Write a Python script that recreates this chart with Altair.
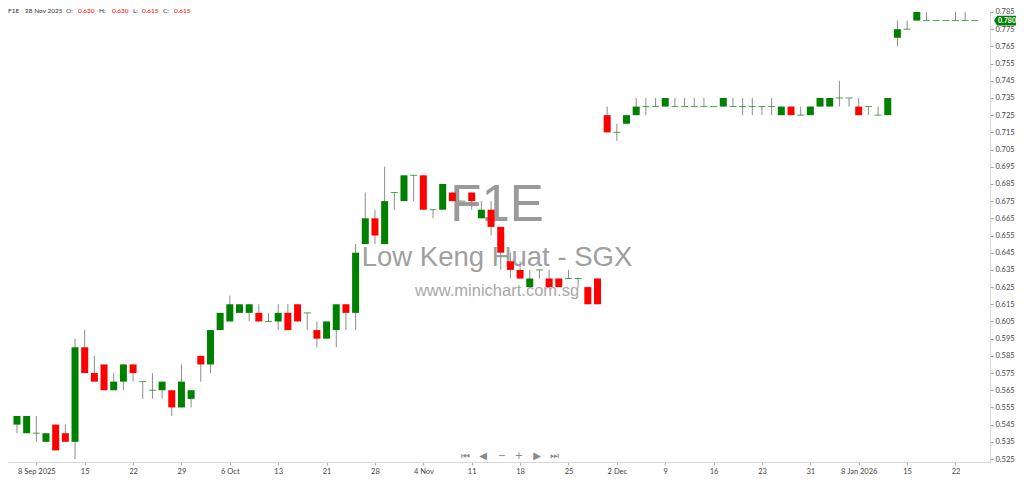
import altair as alt
import pandas as pd

# ---- data (trading-day index 0 = 4 Sep 2025) ----
opens = [0.545, 0.540, 0.540, 0.535, 0.545, 0.540, 0.535, 0.590, 0.575, 0.580,
         0.565, 0.570, 0.580, 0.570, 0.565, 0.565, 0.565, 0.555, 0.560, 0.585,
         0.580, 0.600, 0.605, 0.610, 0.610, 0.610, 0.605, 0.605, 0.610, 0.615,
         0.610, 0.600, 0.595, 0.600, 0.615, 0.610, 0.650, 0.665, 0.650, 0.680,
         0.675, 0.690, 0.690, 0.670, 0.670, 0.680, 0.675, 0.680, 0.665, 0.670,
         0.660, 0.640, 0.635, 0.625, 0.635, 0.630, 0.630, 0.630, 0.630, 0.625,
         0.630, 0.725, 0.715, 0.720, 0.725, 0.730, 0.730, 0.730, 0.730, 0.730,
         0.730, 0.730, 0.730, 0.730, 0.730, 0.730, 0.730, 0.730, 0.730, 0.725,
         0.730, 0.725, 0.725, 0.730, 0.730, 0.735, 0.735, 0.730, 0.730, 0.725,
         0.725, 0.770, 0.775, 0.780, 0.780, 0.780, 0.780, 0.780, 0.780, 0.780]
highs = [0.550, 0.550, 0.550, 0.540, 0.545, 0.545, 0.595, 0.600, 0.585, 0.580,
         0.575, 0.580, 0.580, 0.570, 0.575, 0.570, 0.565, 0.580, 0.565, 0.585,
         0.600, 0.610, 0.620, 0.615, 0.615, 0.615, 0.610, 0.615, 0.615, 0.615,
         0.610, 0.605, 0.605, 0.615, 0.615, 0.650, 0.680, 0.670, 0.695, 0.680,
         0.690, 0.690, 0.690, 0.670, 0.685, 0.680, 0.675, 0.680, 0.675, 0.675,
         0.660, 0.645, 0.640, 0.635, 0.635, 0.635, 0.630, 0.635, 0.630, 0.625,
         0.630, 0.730, 0.720, 0.725, 0.735, 0.735, 0.735, 0.735, 0.735, 0.735,
         0.735, 0.735, 0.730, 0.735, 0.735, 0.735, 0.735, 0.730, 0.735, 0.730,
         0.730, 0.730, 0.730, 0.735, 0.735, 0.745, 0.735, 0.735, 0.730, 0.730,
         0.735, 0.780, 0.780, 0.785, 0.785, 0.780, 0.780, 0.785, 0.785, 0.780]
lows = [0.540, 0.540, 0.535, 0.535, 0.530, 0.535, 0.525, 0.575, 0.570, 0.565,
        0.565, 0.565, 0.570, 0.560, 0.560, 0.560, 0.550, 0.555, 0.555, 0.570,
        0.575, 0.600, 0.605, 0.610, 0.605, 0.605, 0.605, 0.600, 0.600, 0.605,
        0.600, 0.590, 0.595, 0.590, 0.600, 0.600, 0.650, 0.650, 0.650, 0.670,
        0.675, 0.675, 0.670, 0.665, 0.670, 0.675, 0.675, 0.670, 0.665, 0.655,
        0.635, 0.630, 0.630, 0.625, 0.630, 0.625, 0.625, 0.630, 0.625, 0.615,
        0.615, 0.715, 0.710, 0.720, 0.725, 0.725, 0.730, 0.730, 0.730, 0.730,
        0.730, 0.730, 0.730, 0.730, 0.730, 0.725, 0.725, 0.725, 0.725, 0.725,
        0.725, 0.725, 0.725, 0.730, 0.730, 0.730, 0.730, 0.725, 0.725, 0.725,
        0.725, 0.765, 0.775, 0.780, 0.780, 0.780, 0.780, 0.780, 0.780, 0.780]
closes = [0.550, 0.550, 0.540, 0.540, 0.530, 0.535, 0.590, 0.575, 0.570, 0.565,
          0.570, 0.580, 0.575, 0.570, 0.565, 0.570, 0.555, 0.570, 0.565, 0.580,
          0.600, 0.610, 0.615, 0.615, 0.615, 0.605, 0.605, 0.610, 0.600, 0.605,
          0.610, 0.595, 0.605, 0.615, 0.610, 0.645, 0.665, 0.655, 0.675, 0.680,
          0.690, 0.690, 0.670, 0.670, 0.685, 0.675, 0.675, 0.675, 0.670, 0.660,
          0.645, 0.635, 0.630, 0.630, 0.635, 0.625, 0.625, 0.630, 0.630, 0.615,
          0.615, 0.715, 0.715, 0.725, 0.730, 0.730, 0.730, 0.735, 0.730, 0.730,
          0.730, 0.730, 0.730, 0.735, 0.730, 0.730, 0.730, 0.730, 0.730, 0.730,
          0.725, 0.725, 0.730, 0.735, 0.735, 0.735, 0.735, 0.725, 0.730, 0.725,
          0.735, 0.775, 0.775, 0.785, 0.780, 0.780, 0.780, 0.780, 0.780, 0.780]

tick_idx = [2, 7, 12, 17, 22, 27, 32, 37, 42, 47, 52, 57, 62, 67, 72, 77, 82, 87, 92, 97]
tick_labels = ["8 Sep 2025", "15", "22", "29", "6 Oct", "13", "21", "28", "4 Nov", "11",
               "18", "25", "2 Dec", "9", "16", "23", "31", "8 Jan 2026", "15", "22"]
y_ticks = [round(0.525 + 0.01 * k, 3) for k in range(27)]

symbol = "F1E"
company = "Low Keng Huat - SGX"
site = "www.minichart.com.sg"
hover_idx = 60
hover_date = "28 Nov 2025"

GREEN = "#008000"
RED = "#ff0000"

df = pd.DataFrame({"i": list(range(len(opens))), "o": opens, "h": highs,
                   "l": lows, "c": closes})
df["dir"] = ["down" if c < o else "up" for o, c in zip(opens, closes)]
body = df[df["o"] != df["c"]]
doji = df[df["o"] == df["c"]]

label_expr = ("[" + ",".join("'%s'" % t for t in tick_labels) + "][indexof(["
              + ",".join(str(v) for v in tick_idx) + "], datum.value)]")

xscale = alt.Scale(domain=[-0.41, 100.05], nice=False, zero=False)
yscale = alt.Scale(domain=[0.52326, 0.78616], nice=False, zero=False)
xaxis = alt.Axis(values=tick_idx, labelExpr=label_expr, orient="bottom", title=None,
                 grid=False, domainColor="#d6d6d6", tickColor="#b0b0b0", tickSize=3,
                 labelColor="#444444", labelFontSize=7.5, labelFont="Lato",
                 labelPadding=2, labelFlush=False, labelOverlap=False)
yaxis = alt.Axis(values=y_ticks, format=".3f", orient="right", title=None, grid=False,
                 domainColor="#d6d6d6", tickColor="#999999", tickSize=3,
                 labelColor="#444444", labelFontSize=7.5, labelFont="Lato",
                 labelPadding=2, labelFlush=False, labelOverlap=False)
X = alt.X("i:Q", scale=xscale, axis=xaxis)
color = alt.Color("dir:N", scale=alt.Scale(domain=["up", "down"], range=[GREEN, RED]),
                  legend=None)

# watermark
wm_font = "Liberation Sans"
wm1 = alt.Chart(pd.DataFrame({"t": [symbol]})).mark_text(
    font=wm_font, fontSize=51, color="#9a9a9a", align="center", baseline="alphabetic"
).encode(x=alt.value(489), y=alt.value(211), text="t:N")
wm2 = alt.Chart(pd.DataFrame({"t": [company]})).mark_text(
    font=wm_font, fontSize=27.5, color="#a0a0a0", align="center", baseline="alphabetic"
).encode(x=alt.value(489), y=alt.value(256), text="t:N")
wm3 = alt.Chart(pd.DataFrame({"t": [site]})).mark_text(
    font=wm_font, fontSize=16.5, color="#a8a8a8", align="center", baseline="alphabetic"
).encode(x=alt.value(489), y=alt.value(286), text="t:N")

wicks = alt.Chart(df).mark_rule(color="#8c8c8c", strokeWidth=1).encode(
    x=X, y=alt.Y("l:Q", scale=yscale, axis=yaxis), y2="h:Q")
bodies = alt.Chart(body).mark_bar(size=7).encode(
    x=X, y=alt.Y("o:Q", scale=yscale, axis=yaxis), y2="c:Q", color=color)
dojis = alt.Chart(doji).mark_tick(orient="horizontal", size=7, thickness=1,
                                  color=GREEN).encode(
    x=X, y=alt.Y("c:Q", scale=yscale, axis=yaxis))

# header (OHLC of hovered day)
hv = [symbol, hover_date, "O:", "%.3f" % opens[hover_idx], "H:", "%.3f" % highs[hover_idx],
      "L:", "%.3f" % lows[hover_idx], "C:", "%.3f" % closes[hover_idx]]
hx = [0, 17, 58, 70, 91, 104, 125, 134, 155, 166]
hc = ["#333333", "#333333", "#333333", RED, "#333333", RED, "#333333", RED, "#333333", RED]
header = []
for t, xx, cc in zip(hv, hx, hc):
    header.append(alt.Chart(pd.DataFrame({"t": [t]})).mark_text(
        font="Lato", fontSize=6.5, color=cc, align="left", baseline="middle"
    ).encode(x=alt.value(xx), y=alt.value(1), text="t:N"))

# navigation controls
nav_glyphs = ["⏮", "◀", "−", "+", "▶", "⏭"]
nav_x = [457, 475, 494, 511, 529, 546]
nav = []
for g, xx in zip(nav_glyphs, nav_x):
    nav.append(alt.Chart(pd.DataFrame({"t": [g]})).mark_text(
        font="DejaVu Sans", fontSize=10, color="#8a8a8a", align="center", baseline="middle"
    ).encode(x=alt.value(xx), y=alt.value(446), text="t:N"))

# last price tag
last = pd.DataFrame({"c": [closes[-1]], "t": ["%.3f" % closes[-1]]})
tag_shape = alt.Chart(last).mark_point(
    shape="M -1 0 L -0.72 -0.45 L 1 -0.45 L 1 0.45 L -0.72 0.45 Z", size=484,
    filled=True, color=GREEN, opacity=1
).encode(x=alt.value(997), y=alt.Y("c:Q", scale=yscale, axis=yaxis))
tag_text = alt.Chart(last).mark_text(
    font="Lato", fontSize=7, fontWeight="bold", color="white", align="center",
    baseline="middle"
).encode(x=alt.value(999), y=alt.Y("c:Q", scale=yscale, axis=yaxis), text="t:N")

chart = alt.layer(
    wm1, wm2, wm3, wicks, bodies, dojis, *header, *nav, tag_shape, tag_text
).properties(
    width=982, height=452,
    padding={"left": 0, "top": 2, "right": 26, "bottom": 14},
    autosize=alt.AutoSizeParams(type="none"),
    background="white"
).configure_view(strokeWidth=0)

chart.save("out.html", embed_options={"renderer": "svg", "actions": False})
